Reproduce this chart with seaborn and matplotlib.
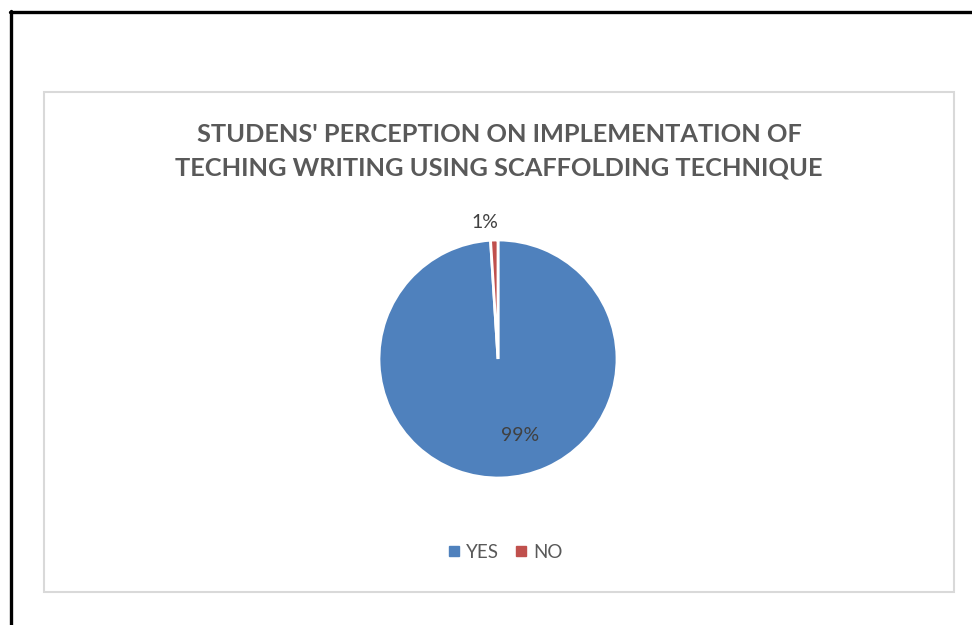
import matplotlib
matplotlib.use("Agg")
import matplotlib.pyplot as plt
import seaborn as sns
from matplotlib.lines import Line2D
from matplotlib.patches import Rectangle

categories = ["YES", "NO"]
values = [99, 1]
pct_labels = ["99%", "1%"]
title = "STUDENS' PERCEPTION ON IMPLEMENTATION OF\nTECHING WRITING USING SCAFFOLDING TECHNIQUE"

sns.set_theme(style="white")
plt.rcParams['font.family'] = ['Lato', 'DejaVu Sans']
colors = ["#4F81BD", "#C0504D"]

W, H = 972, 625
fig = plt.figure(figsize=(W / 100, H / 100), dpi=100)
fig.patch.set_facecolor("white")

def fx(px):
    return px / W

def fy(py):
    return 1 - py / H

# outer border lines (top and left)
fig.add_artist(Line2D([fx(10), fx(972)], [fy(12), fy(12)], color="black", lw=2.4))
fig.add_artist(Line2D([fx(10.5), fx(10.5)], [fy(11), fy(625)], color="black", lw=2.4))
# inner chart area border
fig.add_artist(Rectangle((fx(44), fy(592)), fx(954) - fx(44), fy(92) - fy(592),
                         fill=False, edgecolor="#D9D9D9", lw=1.5))

fig.text(fx(499), fy(151), title, ha="center", va="center", fontsize=18.3,
         fontweight="bold", color="#595959", linespacing=1.55)

cx, cy, r = 498, 359, 119
ax = fig.add_axes([fx(cx - r), fy(cy + r), 2 * r / W, 2 * r / H])
wedges, _ = ax.pie(values, colors=colors, startangle=90, counterclock=False,
                   wedgeprops=dict(edgecolor="white", linewidth=2.0))
ax.set_xlim(-1, 1)
ax.set_ylim(-1, 1)
ax.set_aspect("equal")
ax.axis("off")

ax.text(0.185, -0.64, pct_labels[0], ha="center", va="center", fontsize=14, color="#404040")
ax.text(-0.11, 1.15, pct_labels[1], ha="center", va="center", fontsize=14, color="#404040")

handles = [Line2D([0], [0], marker="s", linestyle="", markersize=6.5,
                  markerfacecolor=c, markeredgecolor=c) for c in colors]
leg = fig.legend(handles, categories, loc="center", bbox_to_anchor=(fx(505), fy(552)),
                 ncol=2, frameon=False, fontsize=13.5, handletextpad=0.3,
                 columnspacing=0.8, handlelength=0.7)
for t in leg.get_texts():
    t.set_color("#595959")

fig.savefig("out.png", dpi=100, facecolor="white")
